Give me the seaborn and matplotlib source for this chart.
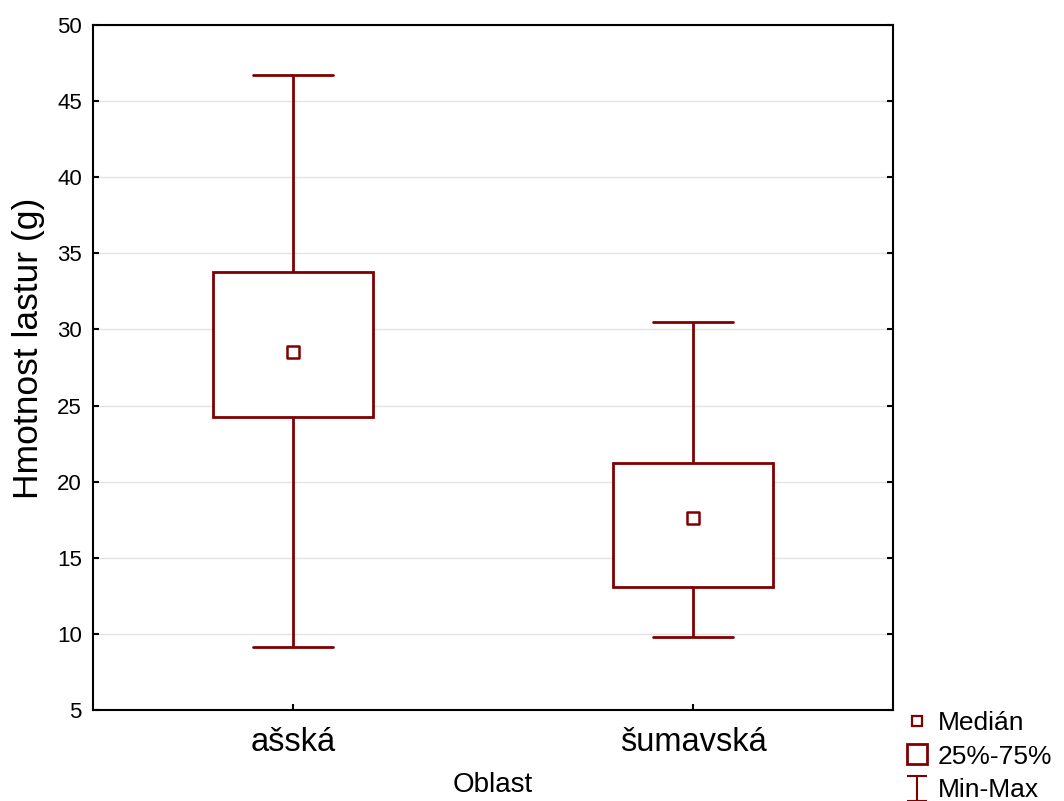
import numpy as np
import pandas as pd
import seaborn as sns
import matplotlib.pyplot as plt
from matplotlib.lines import Line2D
from matplotlib.path import Path

# Five-number summaries of shell weight per region
oblast = ["ašská", "šumavská"]
minimum = [9.15, 9.8]
q1 = [24.25, 13.05]
median = [28.5, 17.6]
q3 = [33.8, 21.25]
maximum = [46.7, 30.5]

y_ticks = [5, 10, 15, 20, 25, 30, 35, 40, 45, 50]

# Five values per group reproduce the summary exactly under linear percentiles
rows = []
for i, name in enumerate(oblast):
    for v in (minimum[i], q1[i], median[i], q3[i], maximum[i]):
        rows.append({"Oblast": name, "value": v})
df = pd.DataFrame(rows)
med_df = pd.DataFrame({"Oblast": oblast, "value": median})

sns.set_theme(style="white")
plt.rcParams["font.family"] = ["Liberation Sans", "DejaVu Sans"]
plt.rcParams["text.color"] = "black"
plt.rcParams["axes.labelcolor"] = "black"

red = "#800000"
fig = plt.figure(figsize=(10.64, 8.01), dpi=100)
ax = fig.add_axes([93 / 1064, 1 - 710 / 801, 800 / 1064, 685 / 801])

sns.boxplot(
    data=df, x="Oblast", y="value", order=oblast, ax=ax,
    whis=(0, 100), width=0.4, color="white", saturation=1,
    linecolor=red, linewidth=2, showfliers=False,
    medianprops={"visible": False},
)
sns.stripplot(
    data=med_df, x="Oblast", y="value", order=oblast, ax=ax,
    jitter=False, marker="s", size=8, color="white",
    edgecolor=red, linewidth=1.8, zorder=5,
)

ax.set_xlim(-0.5, 1.5)
ax.set_ylim(5, 50)
ax.set_yticks(y_ticks)
ax.yaxis.grid(True, color="#e3e3e3", linewidth=1)
ax.set_axisbelow(True)
for s in ax.spines.values():
    s.set_color("black")
    s.set_linewidth(1.5)
ax.tick_params(axis="y", direction="in", length=4, width=1.5, colors="black",
               labelsize=16, right=True, left=True, pad=8)
ax.tick_params(axis="x", direction="in", length=4, width=1.5, colors="black",
               labelsize=23.5, bottom=True, pad=12)
ax.set_xlabel("Oblast", fontsize=20, labelpad=10, color="black")
ax.set_ylabel("Hmotnost lastur (g)", fontsize=25.5, color="black")
ax.yaxis.set_label_coords(-0.06, 0.528)

# Legend symbols: median point, quartile box, min-max whisker
ibeam = Path(
    [(-0.8, 1), (0.8, 1), (0, 1), (0, -1), (-0.8, -1), (0.8, -1)],
    [Path.MOVETO, Path.LINETO, Path.MOVETO, Path.LINETO, Path.MOVETO, Path.LINETO],
)
handles = [
    Line2D([], [], linestyle="none", marker="s", markersize=6.5,
           markerfacecolor="white", markeredgecolor=red, markeredgewidth=1.6),
    Line2D([], [], linestyle="none", marker="s", markersize=15,
           markerfacecolor="white", markeredgecolor=red, markeredgewidth=2),
    Line2D([], [], linestyle="none", marker=ibeam, markersize=18,
           markerfacecolor="none", markeredgecolor=red, markeredgewidth=1.5),
]
labels = ["Medián", "25%-75%", "Min-Max"]
fig.legend(
    handles, labels, loc="upper left",
    bbox_to_anchor=(884 / 1064, 1 - 693 / 801),
    frameon=False, fontsize=19, handlelength=1.1, handletextpad=0.25,
    labelspacing=0.35, borderpad=0.2,
)

fig.savefig("out.png", dpi=100)
